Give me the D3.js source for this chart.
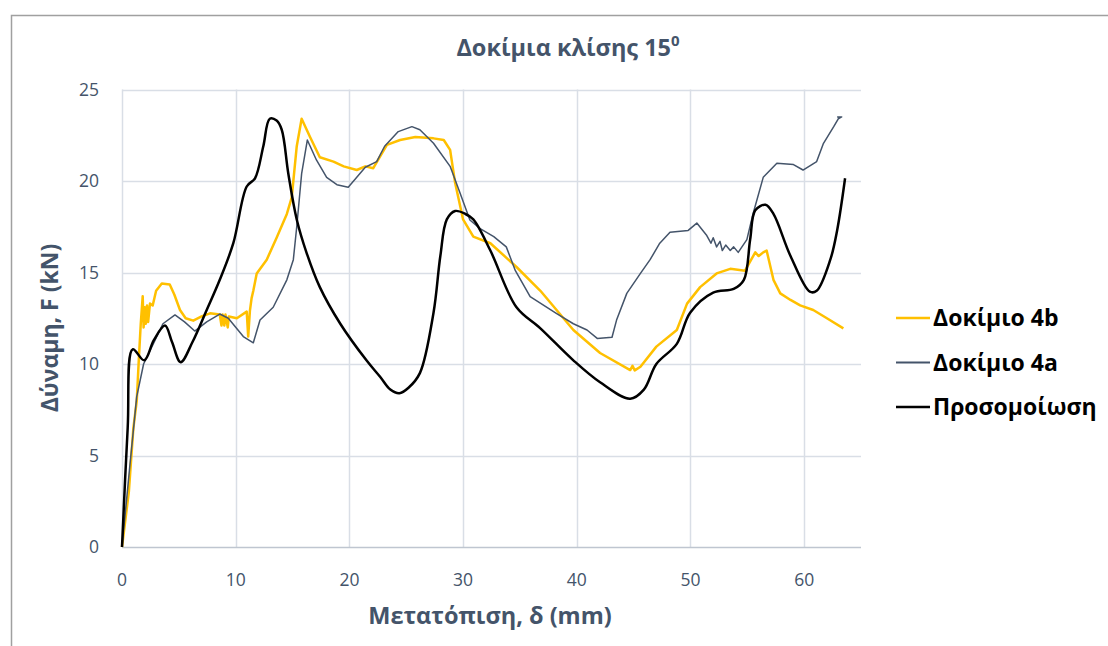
<!DOCTYPE html>
<html>
<head>
<meta charset="utf-8">
<script src="https://cdn.jsdelivr.net/npm/d3@7"></script>
<style>
  body { margin: 0; background: #fff; }
  svg { display: block; font-family: "Open Sans", "Noto Sans", sans-serif; }
</style>
</head>
<body>
<div id="chart"></div>
<script>
// Δοκίμιο 4b (yellow)
const spec4b = [
  [0,0],[0.6,3],[1.0,6.5],[1.3,8.0],[1.5,10.5],[1.65,12.2],[1.82,13.7],[1.9,12.0],[2.0,13.1],[2.1,12.2],
  [2.2,13.2],[2.3,12.3],[2.46,13.3],[2.7,13.2],[3.0,14.0],[3.5,14.4],[4.2,14.35],[4.6,13.8],[5.1,12.95],
  [5.6,12.5],[6.27,12.37],[7.0,12.6],[7.74,12.77],[8.6,12.7],[8.75,12.1],[8.85,12.7],[9.0,12.1],[9.1,12.7],
  [9.3,12.0],[9.4,12.6],[10.1,12.5],[10.97,12.86],[11.1,11.5],[11.25,12.9],[11.4,13.6],[11.55,14.0],
  [11.85,14.95],[12.73,15.7],[13.6,16.9],[14.5,18.2],[14.93,19.1],[15.37,21.9],[15.8,23.4],[16.54,22.4],
  [17.4,21.3],[18.6,21.06],[19.5,20.8],[20.65,20.6],[21.4,20.8],[22.1,20.7],[23.3,21.97],[24.46,22.24],
  [25.8,22.4],[27.4,22.33],[28.3,22.24],[28.86,21.7],[29.3,19.9],[30.0,17.9],[30.9,16.96],[32.4,16.6],
  [34.7,15.3],[36.8,14.0],[39.7,11.86],[42.05,10.6],[44.7,9.67],[44.9,9.9],[45.1,9.65],[45.6,9.85],
  [47.0,10.95],[48.8,11.86],[49.7,13.3],[50.85,14.2],[52.3,14.95],[53.5,15.2],[54.8,15.1],[55.7,16.1],
  [56.0,15.9],[56.4,16.1],[56.7,16.2],[57.3,14.6],[57.9,13.86],[58.8,13.5],[59.65,13.2],[60.8,12.95],
  [62.0,12.5],[63.45,11.95]
];

// Δοκίμιο 4a (grey)
const spec4a = [
  [0,0],[0.7,4.5],[1.1,7.0],[1.29,8.2],[1.9,10.0],[2.75,11.1],[3.6,12.2],[4.66,12.68],[5.5,12.3],
  [6.4,11.8],[7.45,12.3],[8.6,12.73],[9.35,12.5],[10.67,11.5],[11.55,11.16],[12.14,12.4],[13.3,13.1],
  [14.5,14.6],[15.07,15.7],[15.37,17.5],[15.8,20.4],[16.3,22.24],[17.1,21.15],[18.0,20.2],[18.9,19.8],
  [19.9,19.66],[20.65,20.2],[21.4,20.75],[22.4,21.06],[23.1,21.9],[24.3,22.7],[25.5,22.97],[26.2,22.8],
  [27.4,22.06],[28.86,20.8],[29.7,19.4],[30.6,17.87],[31.5,17.4],[32.7,16.96],[33.8,16.4],[34.6,15.1],
  [35.9,13.68],[38.2,12.77],[39.7,12.2],[40.9,11.86],[41.8,11.4],[43.1,11.46],[43.5,12.4],[44.4,13.86],
  [45.6,14.95],[46.45,15.7],[47.3,16.6],[48.2,17.2],[49.8,17.3],[50.56,17.7],[51.4,17.05],[51.8,16.6],
  [52.0,16.9],[52.3,16.4],[52.6,16.7],[52.8,16.2],[53.1,16.5],[53.5,16.2],[53.8,16.4],[54.2,16.1],
  [54.96,16.8],[55.5,18.2],[56.4,20.2],[57.6,20.97],[59.06,20.9],[59.9,20.6],[61.1,21.06],[61.7,22.06],
  [62.6,22.97],[63.0,23.4],[63.3,23.5],[62.9,23.5]
];

// Προσομοίωση (black)
const simulation = [
  [0,0],[0.5,6.5],[0.94,10.8],[1.96,10.2],[2.8,11.3],[3.78,12.1],[4.4,11.2],[5.16,10.1],[6.2,11.2],
  [7.45,12.95],[8.6,14.6],[9.79,16.6],[10.97,19.7],[11.7,20.15],[12.43,21.9],[13.0,23.4],[13.6,23.3],
  [14.05,22.8],[14.63,20.4],[15.37,17.9],[16.25,16.05],[17.4,14.2],[19.2,12.2],[21.5,10.2],[22.7,9.3],
  [23.6,8.6],[24.4,8.4],[25.2,8.7],[26.2,9.5],[27.4,12.8],[28.0,15.9],[28.57,17.9],[29.3,18.36],
  [30.2,18.2],[30.9,17.9],[32.4,16.2],[34.7,13.1],[36.8,11.95],[39.7,10.2],[42.05,9.0],[44.7,8.1],
  [45.9,8.6],[47.0,10.0],[48.8,11.1],[49.97,12.8],[52.0,13.9],[53.8,14.1],[54.7,14.6],[55.25,16.8],
  [55.7,18.4],[56.6,18.7],[57.3,18.2],[58.8,15.9],[60.5,13.95],[61.1,14.0],[62.3,15.7],[62.9,17.3],
  [63.6,20.15]
];

const xTicks = [0, 10, 20, 30, 40, 50, 60];
const yTicks = [0, 5, 10, 15, 20, 25];
const seriesNames = ["Δοκίμιο 4b", "Δοκίμιο 4a", "Προσομοίωση"];

const width = 1108, height = 646;
const svg = d3.select("#chart").append("svg")
  .attr("width", width).attr("height", height);

// chart border
svg.append("path")
  .attr("d", "M11.5,646 V15.5 H1108")
  .attr("fill", "none").attr("stroke", "#a0a0a0").attr("stroke-width", 1.5);

const x = d3.scaleLinear().domain([0, 65]).range([122, 861]);
const y = d3.scaleLinear().domain([0, 25]).range([547, 89.5]);

// gridlines
svg.append("g").selectAll("line.h")
  .data(yTicks.slice(1))
  .enter().append("line")
  .attr("x1", x(0)).attr("x2", x(65))
  .attr("y1", d => Math.round(y(d)) + 0.5).attr("y2", d => Math.round(y(d)) + 0.5)
  .attr("stroke", "#d9dee6").attr("stroke-width", 1.5);

svg.append("g").selectAll("line.v")
  .data(xTicks)
  .enter().append("line")
  .attr("y1", y(0)).attr("y2", y(25))
  .attr("x1", d => Math.round(x(d)) + 0.5).attr("x2", d => Math.round(x(d)) + 0.5)
  .attr("stroke", "#d9dee6").attr("stroke-width", 1.5);

// x axis line
svg.append("line")
  .attr("x1", x(0)).attr("x2", x(65))
  .attr("y1", Math.round(y(0)) + 0.5).attr("y2", Math.round(y(0)) + 0.5)
  .attr("stroke", "#bfc6d0").attr("stroke-width", 1.5);

// tick labels
svg.append("g").selectAll("text")
  .data(yTicks).enter().append("text")
  .attr("x", 99).attr("y", d => y(d) + 6)
  .attr("text-anchor", "end")
  .attr("font-size", 17.5).attr("fill", "#44546a")
  .text(d => d);

svg.append("g").selectAll("text")
  .data(xTicks).enter().append("text")
  .attr("x", d => x(d)).attr("y", 586)
  .attr("text-anchor", "middle")
  .attr("font-size", 17.5).attr("fill", "#44546a")
  .text(d => d);

// lines
const lineLin = d3.line().x(d => x(d[0])).y(d => y(d[1]));
const lineSmooth = d3.line().x(d => x(d[0])).y(d => y(d[1])).curve(d3.curveCatmullRom.alpha(0.5));

const series = [
  { name: seriesNames[0], data: spec4b, color: "#ffc000", w: 2.5, gen: lineLin },
  { name: seriesNames[1], data: spec4a, color: "#44546a", w: 1.5, gen: lineLin },
  { name: seriesNames[2], data: simulation, color: "#000000", w: 2.5, gen: lineSmooth }
];

series.forEach(s => {
  svg.append("path")
    .datum(s.data)
    .attr("fill", "none")
    .attr("stroke", s.color)
    .attr("stroke-width", s.w)
    .attr("stroke-linejoin", "round")
    .attr("d", s.gen);
});

// title
const title = svg.append("text")
  .attr("x", 568).attr("y", 56)
  .attr("text-anchor", "middle")
  .attr("font-size", 23.5).attr("font-weight", "bold").attr("fill", "#44546a");
title.append("tspan").text("Δοκίμια κλίσης 15");
title.append("tspan").attr("dy", -10).attr("font-size", 15).text("0");

// axis titles
svg.append("text")
  .attr("transform", "translate(58,328) rotate(-90)")
  .attr("text-anchor", "middle")
  .attr("font-size", 23).attr("font-weight", "bold").attr("fill", "#44546a")
  .text("Δύναμη, F (kN)");

svg.append("text")
  .attr("x", 490).attr("y", 624)
  .attr("text-anchor", "middle")
  .attr("font-size", 23.5).attr("font-weight", "bold").attr("fill", "#44546a")
  .text("Μετατόπιση, δ (mm)");

// legend
const legend = svg.append("g").attr("transform", "translate(896,318)");
series.forEach((s, i) => {
  const row = legend.append("g").attr("transform", `translate(0,${i * 44.5})`);
  row.append("line").attr("x1", 0).attr("x2", 34)
    .attr("stroke", s.color).attr("stroke-width", s.w === 1.5 ? 2 : 2.5);
  row.append("text").attr("x", 37).attr("y", 8)
    .attr("font-size", 23).attr("font-weight", "bold").attr("fill", "#000")
    .text(s.name);
});
</script>
</body>
</html>
